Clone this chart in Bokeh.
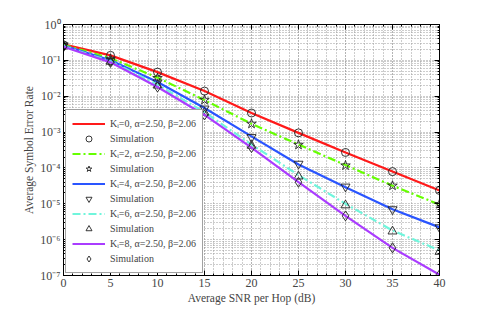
import numpy as np
from bokeh.plotting import figure
from bokeh.models import (LogAxis, LinearAxis, Legend, LegendItem,
                          CustomJSTickFormatter, FixedTicker)
from bokeh.embed import file_html
from bokeh.resources import INLINE

snr = [0, 5, 10, 15, 20, 25, 30, 35, 40]

# theory curves
ser_k0 = [0.28, 0.138, 0.047, 0.0139, 3.4e-3, 9.5e-4, 2.7e-4, 7.9e-5, 2.35e-5]
ser_k2 = [0.27, 0.115, 0.033, 0.0078, 1.7e-3, 4.5e-4, 1.2e-4, 3.2e-5, 9.5e-6]
ser_k4 = [0.26, 0.100, 0.025, 0.0047, 7.6e-4, 1.25e-4, 2.9e-5, 7.0e-6, 2.2e-6]
ser_k6 = [0.25, 0.094, 0.021, 0.0036, 4.5e-4, 6.3e-5, 1.0e-5, 1.8e-6, 5.0e-7]
ser_k8 = [0.24, 0.088, 0.018, 0.0030, 3.7e-4, 4.0e-5, 4.6e-6, 5.9e-7, 1.05e-7]

# simulation points
sim_k0 = [0.27, 0.138, 0.047, 0.0139, 3.4e-3, 9.5e-4, 2.7e-4, 7.9e-5, 2.35e-5]
sim_k2 = [0.27, 0.110, 0.032, 0.0079, 1.7e-3, 4.4e-4, 1.17e-4, 3.2e-5, 9.8e-6]
sim_k4 = [0.26, 0.095, 0.024, 0.0045, 7.2e-4, 1.3e-4, 3.0e-5, 7.0e-6, 2.2e-6]
sim_k6 = [0.25, 0.092, 0.020, 0.0035, 4.2e-4, 5.8e-5, 9.1e-6, 1.7e-6, 4.6e-7]
sim_k8 = [0.24, 0.088, 0.018, 0.0030, 3.7e-4, 4.0e-5, 4.6e-6, 5.9e-7, 1.05e-7]

labels = ["Kᵢ=0, α=2.50, β=2.06", "Kᵢ=2, α=2.50, β=2.06", "Kᵢ=4, α=2.50, β=2.06",
          "Kᵢ=6, α=2.50, β=2.06", "Kᵢ=8, α=2.50, β=2.06"]
sim_label = "Simulation"
x_ticks = [0, 5, 10, 15, 20, 25, 30, 35, 40]
y_exps = [-7, -6, -5, -4, -3, -2, -1, 0]

FONT = "Liberation Serif"

p = figure(width=470, height=306, y_axis_type="log", x_range=(0, 40), y_range=(1e-7, 1),
           output_backend="svg", toolbar_location=None,
           min_border_left=63, min_border_right=31, min_border_top=24, min_border_bottom=29)
p.background_fill_color = "white"
p.outline_line_color = "black"
p.outline_line_width = 1

xt = FixedTicker(ticks=x_ticks, minor_ticks=list(range(x_ticks[0], x_ticks[-1] + 1)))
yt = FixedTicker(ticks=[10.0 ** e for e in y_exps],
                 minor_ticks=[m * 10.0 ** e for e in y_exps[:-1] for m in range(2, 10)])

sup = CustomJSTickFormatter(code="""
const s = {'0':'\u2070','1':'\u00b9','2':'\u00b2','3':'\u00b3','4':'\u2074','5':'\u2075','6':'\u2076','7':'\u2077','8':'\u2078','9':'\u2079','-':'\u207b'};
const e = Math.round(Math.log10(tick));
return '10' + String(e).split('').map(c => s[c]).join('');
""")
blank = CustomJSTickFormatter(code="return '';")

for ax in (p.xaxis[0], p.yaxis[0]):
    ax.major_tick_in = 5
    ax.major_tick_out = 0
    ax.minor_tick_in = 2
    ax.minor_tick_out = 0
    ax.major_label_text_font = FONT
    ax.major_label_text_font_size = "12px"
    ax.axis_label_text_font = FONT
    ax.axis_label_text_font_size = "11.5px"
    ax.axis_label_text_font_style = "normal"
    ax.axis_line_color = "black"
    ax.major_label_standoff = 3
    ax.axis_label_standoff = 2

p.xaxis[0].ticker = xt
p.yaxis[0].ticker = yt
p.yaxis[0].formatter = sup
p.xaxis[0].axis_label = "Average SNR per Hop (dB)"
p.yaxis[0].axis_label = "Average Symbol Error Rate"

top = LinearAxis(ticker=xt, formatter=blank, major_tick_in=5, major_tick_out=0,
                 minor_tick_in=2, minor_tick_out=0, major_label_standoff=0)
right = LogAxis(ticker=yt, formatter=blank, major_tick_in=5, major_tick_out=0,
                minor_tick_in=2, minor_tick_out=0, major_label_standoff=0)
p.add_layout(top, "above")
p.add_layout(right, "right")

for g in (p.xgrid[0], p.ygrid[0]):
    g.grid_line_color = "#9a9a9a"
    g.grid_line_dash = "1 2"
    g.minor_grid_line_color = "#9a9a9a"
    g.minor_grid_line_dash = "1 2"
p.xgrid[0].ticker = xt
p.ygrid[0].ticker = yt

colors = ["#ff1a1a", "#66ff00", "#2a55ff", "#70f5dc", "#aa3cff"]
dashes = ["solid", "8 3 2 3", "solid", "8 3 2 3", "solid"]
theory = [ser_k0, ser_k2, ser_k4, ser_k6, ser_k8]
sims = [sim_k0, sim_k2, sim_k4, sim_k6, sim_k8]
markers = ["circle", "star", "inverted_triangle", "triangle", "diamond"]
msizes = [8, 10, 9, 9, 10]

items = []
for i in range(5):
    lr = p.line(snr, theory[i], line_color=colors[i], line_width=2.2, line_dash=dashes[i])
    mr = p.scatter(snr, sims[i], marker=markers[i], size=msizes[i], fill_color=None,
                   line_color="#222222", line_width=0.9)
    items.append(LegendItem(label=labels[i], renderers=[lr]))
    items.append(LegendItem(label=sim_label, renderers=[mr]))

legend = Legend(items=items, location="bottom_left", margin=2, padding=6, spacing=0,
                glyph_width=33, glyph_height=15, label_height=15, label_standoff=5,
                label_text_font=FONT, label_text_font_size="10px",
                border_line_color="#444444", border_line_width=1.5,
                background_fill_color="white", background_fill_alpha=1.0)
p.add_layout(legend, "center")

open("out.html", "w").write(file_html(p, INLINE))
